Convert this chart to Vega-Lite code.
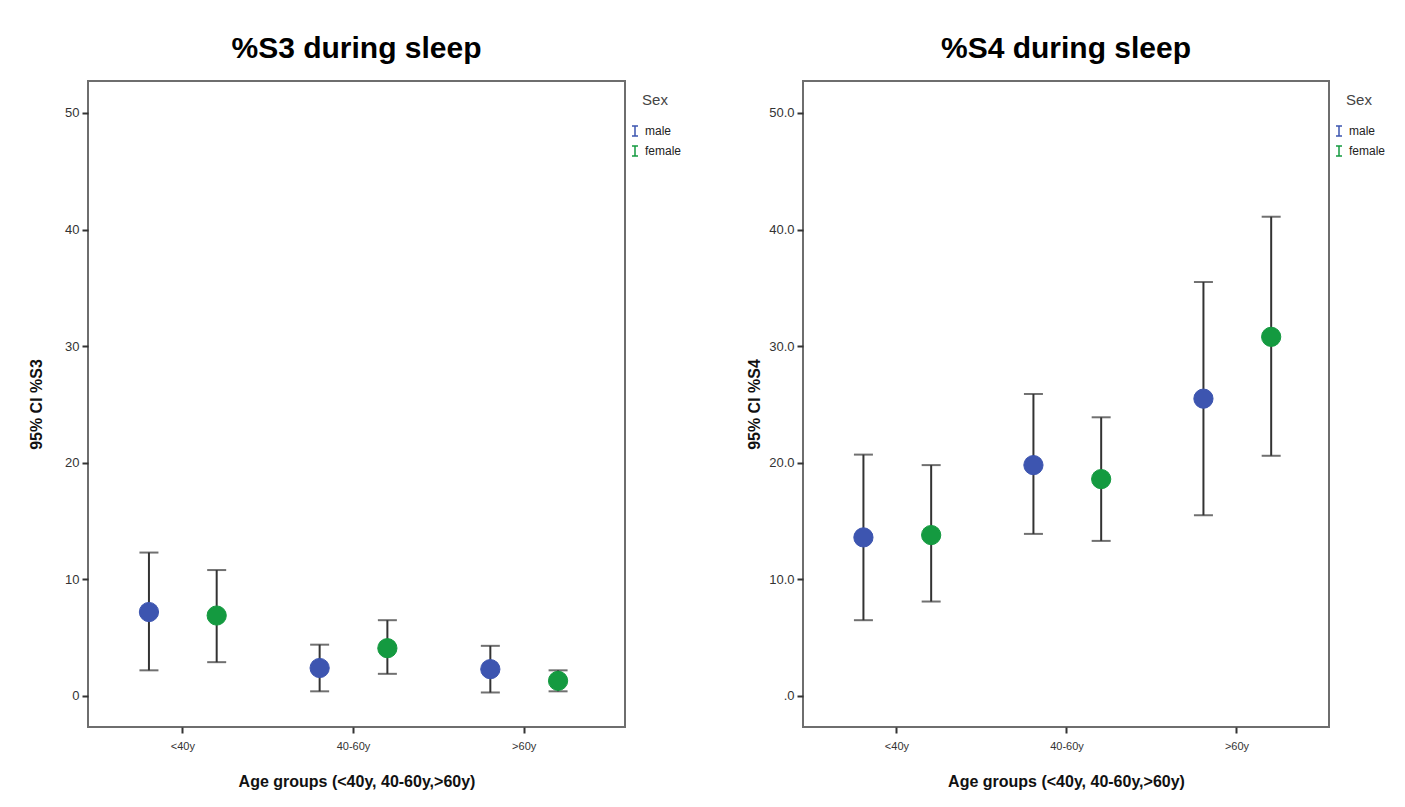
{
  "$schema": "https://vega.github.io/schema/vega-lite/v6.json",
  "background": "white",
  "padding": {"top": 33, "left": 27, "right": 5, "bottom": 5},
  "datasets": {
    "s3": [
      {"age": "<40y", "sex": "male", "mean": 7.2, "lo": 2.2, "hi": 12.3},
      {"age": "<40y", "sex": "female", "mean": 6.9, "lo": 2.9, "hi": 10.8},
      {"age": "40-60y", "sex": "male", "mean": 2.4, "lo": 0.4, "hi": 4.4},
      {"age": "40-60y", "sex": "female", "mean": 4.1, "lo": 1.9, "hi": 6.5},
      {"age": ">60y", "sex": "male", "mean": 2.3, "lo": 0.3, "hi": 4.3},
      {"age": ">60y", "sex": "female", "mean": 1.3, "lo": 0.4, "hi": 2.2}
    ],
    "s4": [
      {"age": "<40y", "sex": "male", "mean": 13.6, "lo": 6.5, "hi": 20.7},
      {"age": "<40y", "sex": "female", "mean": 13.8, "lo": 8.1, "hi": 19.8},
      {"age": "40-60y", "sex": "male", "mean": 19.8, "lo": 13.9, "hi": 25.9},
      {"age": "40-60y", "sex": "female", "mean": 18.6, "lo": 13.3, "hi": 23.9},
      {"age": ">60y", "sex": "male", "mean": 25.5, "lo": 15.5, "hi": 35.5},
      {"age": ">60y", "sex": "female", "mean": 30.8, "lo": 20.6, "hi": 41.1}
    ]
  },
  "spacing": 62,
  "hconcat": [
    {
      "title": {"text": "%S3 during sleep"},
      "width": 537,
      "height": 646,
      "data": {"name": "s3"},
      "encoding": {
        "x": {"field": "age", "type": "nominal", "sort": ["<40y", "40-60y", ">60y"],
          "scale": {"paddingInner": 0, "paddingOuter": 0.073, "align": 0.38},
          "axis": {"title": "Age groups (<40y, 40-60y,>60y)", "labelAngle": 0}},
        "xOffset": {"field": "sex", "type": "nominal", "sort": ["male", "female"],
          "scale": {"paddingInner": 0, "paddingOuter": 0.26}}
      },
      "layer": [
        {"mark": {"type": "rule", "color": "#333333", "strokeWidth": 2},
          "encoding": {
            "y": {"field": "lo", "type": "quantitative", "title": "95% CI %S3",
              "scale": {"domain": [-2.66, 52.74], "nice": false, "zero": false},
              "axis": {"values": [0, 10, 20, 30, 40, 50], "titlePadding": 20}},
            "y2": {"field": "hi"}}},
        {"mark": {"type": "tick", "orient": "horizontal", "size": 19, "thickness": 2, "color": "#333333"},
          "encoding": {"y": {"field": "lo", "type": "quantitative", "title": "95% CI %S3"}}},
        {"mark": {"type": "tick", "orient": "horizontal", "size": 19, "thickness": 2, "color": "#333333"},
          "encoding": {"y": {"field": "hi", "type": "quantitative", "title": "95% CI %S3"}}},
        {"mark": {"type": "circle", "size": 370, "opacity": 1, "strokeWidth": 1},
          "encoding": {
            "y": {"field": "mean", "type": "quantitative", "title": "95% CI %S3"},
            "fill": {"field": "sex", "type": "nominal",
              "scale": {"domain": ["male", "female"], "range": ["#3d55b0", "#149a40"]},
              "legend": {"title": "Sex", "orient": "none", "legendX": 541, "legendY": 12}},
            "stroke": {"field": "sex", "type": "nominal",
              "scale": {"domain": ["male", "female"], "range": ["#3d55b0", "#149a40"]},
              "legend": {"title": "Sex", "orient": "none", "legendX": 541, "legendY": 12}}}}
      ]
    },
    {
      "title": {"text": "%S4 during sleep"},
      "width": 526,
      "height": 646,
      "data": {"name": "s4"},
      "encoding": {
        "x": {"field": "age", "type": "nominal", "sort": ["<40y", "40-60y", ">60y"],
          "scale": {"paddingInner": 0, "paddingOuter": 0.047, "align": 0.56},
          "axis": {"title": "Age groups (<40y, 40-60y,>60y)", "labelAngle": 0}},
        "xOffset": {"field": "sex", "type": "nominal", "sort": ["male", "female"],
          "scale": {"paddingInner": 0, "paddingOuter": 0.26}}
      },
      "layer": [
        {"mark": {"type": "rule", "color": "#333333", "strokeWidth": 2},
          "encoding": {
            "y": {"field": "lo", "type": "quantitative", "title": "95% CI %S4",
              "scale": {"domain": [-2.66, 52.74], "nice": false, "zero": false},
              "axis": {"values": [0, 10, 20, 30, 40, 50], "titlePadding": 6,
                "labelExpr": "datum.value == 0 ? '.0' : format(datum.value, '.1f')"}},
            "y2": {"field": "hi"}}},
        {"mark": {"type": "tick", "orient": "horizontal", "size": 19, "thickness": 2, "color": "#333333"},
          "encoding": {"y": {"field": "lo", "type": "quantitative", "title": "95% CI %S4"}}},
        {"mark": {"type": "tick", "orient": "horizontal", "size": 19, "thickness": 2, "color": "#333333"},
          "encoding": {"y": {"field": "hi", "type": "quantitative", "title": "95% CI %S4"}}},
        {"mark": {"type": "circle", "size": 370, "opacity": 1, "strokeWidth": 1},
          "encoding": {
            "y": {"field": "mean", "type": "quantitative", "title": "95% CI %S4"},
            "fill": {"field": "sex", "type": "nominal",
              "scale": {"domain": ["male", "female"], "range": ["#3d55b0", "#149a40"]},
              "legend": {"title": "Sex", "orient": "none", "legendX": 530, "legendY": 12}},
            "stroke": {"field": "sex", "type": "nominal",
              "scale": {"domain": ["male", "female"], "range": ["#3d55b0", "#149a40"]},
              "legend": {"title": "Sex", "orient": "none", "legendX": 530, "legendY": 12}}}}
      ]
    }
  ],
  "resolve": {
    "scale": {"x": "independent", "y": "independent", "fill": "shared", "stroke": "shared"},
    "legend": {"fill": "independent", "stroke": "independent"}
  },
  "config": {
    "font": "Liberation Sans",
    "view": {"stroke": "#6e6e6e", "strokeWidth": 2},
    "title": {"font": "Liberation Sans", "fontSize": 30, "fontWeight": "bold", "color": "#000000", "offset": 17, "anchor": "middle"},
    "axis": {
      "domain": false, "grid": false,
      "tickColor": "#333333", "tickWidth": 2, "tickSize": 6,
      "labelFont": "Liberation Sans", "labelColor": "#333333", "labelFontSize": 13, "labelPadding": 3,
      "titleFont": "Liberation Sans", "titleFontSize": 16, "titleFontWeight": "bold", "titleColor": "#111111"
    },
    "axisX": {"labelFontSize": 11, "labelPadding": 7, "titlePadding": 22},
    "legend": {
      "padding": 0,
      "titleFont": "Liberation Sans", "titleFontSize": 15, "titleFontWeight": "normal", "titleColor": "#444444", "titlePadding": 17, "titleAnchor": "middle",
      "labelFont": "Liberation Sans", "labelFontSize": 12, "labelColor": "#222222",
      "symbolType": "M-0.6,-1L0.6,-1M0,-1L0,1M-0.6,1L0.6,1", "symbolSize": 100, "symbolStrokeWidth": 1.5, "rowPadding": 4,
      "symbolOffset": 0
    }
  }
}
